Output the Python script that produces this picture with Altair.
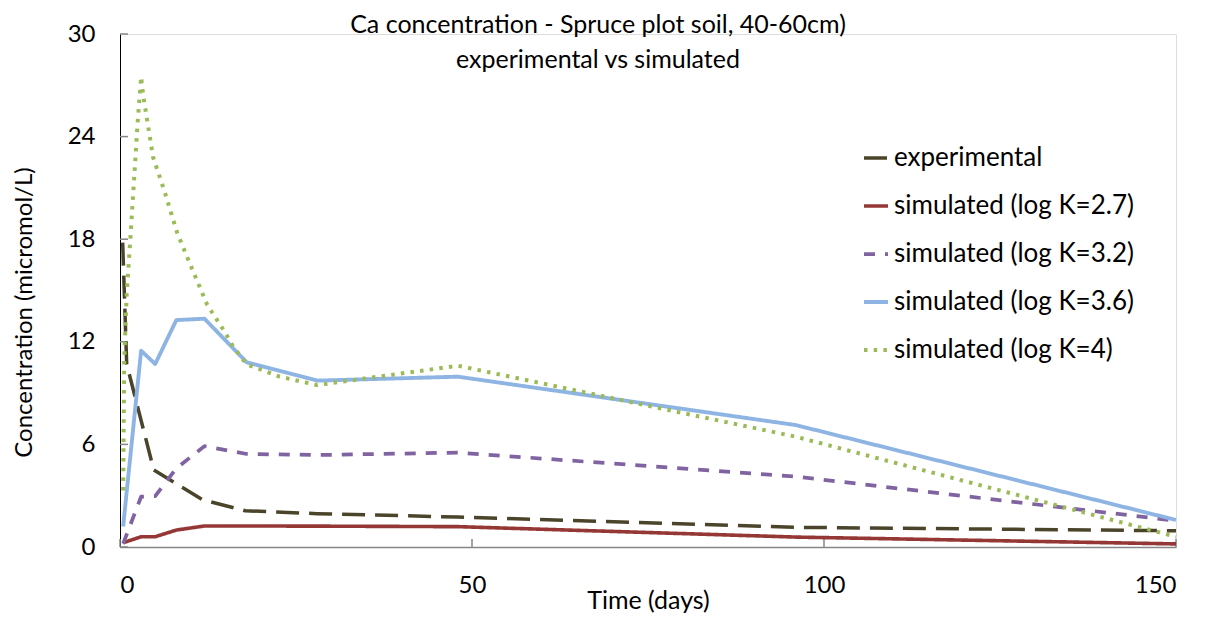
import altair as alt
import pandas as pd

FONT = "Lato"

series_names = [
    "experimental",
    "simulated (log K=2.7)",
    "simulated (log K=3.2)",
    "simulated (log K=3.6)",
    "simulated (log K=4)",
]

exp_days = [0.38, 0.95, 4.8, 11.8, 17.8, 28, 48, 96, 150]
exp_vals = [17.8, 10.7, 4.5, 2.75, 2.12, 1.95, 1.75, 1.15, 0.95]

sim_days = [0.45, 3, 5, 8, 12, 18, 28, 48, 96, 150]
k27_vals = [0.25, 0.6, 0.6, 0.99, 1.23, 1.23, 1.22, 1.19, 0.58, 0.18]
k32_vals = [0.2, 2.94, 2.98, 4.6, 5.9, 5.44, 5.38, 5.52, 4.12, 1.54]
k36_vals = [1.2, 11.48, 10.7, 13.27, 13.35, 10.8, 9.73, 9.96, 7.13, 1.58]

k4_days = [0.45, 0.6, 0.95, 1.5, 2.0, 2.5, 3.0, 3.3, 4.7, 6.4, 8.1, 10.2,
           12.4, 14.7, 16.1, 18, 22.7, 28, 48, 96, 150]
k4_vals = [3.3, 10.9, 14.8, 18.2, 21.5, 24.8, 27.5, 26.4, 22.8, 20.7, 18.4, 16.3,
           14.15, 12.7, 11.7, 10.68, 9.96, 9.47, 10.6, 6.45, 0.6]

y_ticks = [0, 6, 12, 18, 24, 30]
x_ticks = [0, 50, 100, 150]

colors = ["#4A452A", "#953735", "#8064A2", "#8DB4E2", "#9BBB59"]
dashes = [[23, 10], [1, 0], [11, 10], [1, 0], [3.5, 6.2]]
widths = [3.5, 4, 3, 3, 3.8]

rows = []
for d, v in zip(exp_days, exp_vals):
    rows.append({"series": series_names[0], "day": d, "value": v})
for name, vals in zip(series_names[1:4], [k27_vals, k32_vals, k36_vals]):
    for d, v in zip(sim_days, vals):
        rows.append({"series": name, "day": d, "value": v})
for d, v in zip(k4_days, k4_vals):
    rows.append({"series": series_names[4], "day": d, "value": v})
df = pd.DataFrame(rows)

W, H = 1056, 513

xscale = alt.Scale(domain=[0, 150], nice=False)
yscale = alt.Scale(domain=[0, 30], nice=False)

lines = alt.Chart(df).mark_line(strokeJoin="round").encode(
    x=alt.X("day:Q", scale=xscale, axis=alt.Axis(
        values=x_ticks, title="Time (days)", ticks=False, grid=False,
        domainColor="#868686", domainWidth=1.5,
        labelFont=FONT, labelFontSize=24, labelColor="#000", labelPadding=26,
        titleFont=FONT, titleFontSize=25, titleFontWeight="normal", titleColor="#000",
        titleX=528, titleY=53, titleBaseline="middle", titleAlign="center")),
    y=alt.Y("value:Q", scale=yscale, axis=alt.Axis(
        values=y_ticks, title="Concentration (micromol/L)", ticks=False, grid=False,
        domainColor="#000", domainWidth=1,
        labelFont=FONT, labelFontSize=24, labelColor="#000", labelPadding=25,
        titleFont=FONT, titleFontSize=24, titleFontWeight="normal", titleColor="#000",
        titleX=-96, titleY=278, titleAngle=-90, titleAlign="center", titleBaseline="middle")),
    color=alt.Color("series:N", scale=alt.Scale(domain=series_names, range=colors),
                    legend=alt.Legend(title=None, orient="none", legendX=742, legendY=110,
                                      labelFont=FONT, labelFontSize=26, labelColor="#000",
                                      symbolType="stroke", symbolSize=576, rowPadding=21,
                                      labelOffset=4, labelLimit=400)),
    strokeDash=alt.StrokeDash("series:N", scale=alt.Scale(domain=series_names, range=dashes)),
    strokeWidth=alt.StrokeWidth("series:N", scale=alt.Scale(domain=series_names, range=widths)),
    order=alt.Order("day:Q"),
)

yt_df = pd.DataFrame({"t": y_ticks})
xt_df = pd.DataFrame({"t": x_ticks})

ytick_marks = alt.Chart(yt_df).mark_rule(color="#868686", strokeWidth=1.5).encode(
    y=alt.Y("t:Q", scale=yscale), x=alt.value(0), x2=alt.value(8))
xtick_marks = alt.Chart(xt_df).mark_rule(color="#868686", strokeWidth=1.5).encode(
    x=alt.X("t:Q", scale=xscale), y=alt.value(H), y2=alt.value(H - 8))

chart = alt.layer(ytick_marks, xtick_marks, lines).properties(
    width=W, height=H,
    title=alt.Title(["Ca concentration - Spruce plot soil, 40-60cm)", "experimental vs simulated"],
                    font=FONT, fontSize=25, fontWeight="normal", color="#000",
                    anchor="middle", dx=-50, dy=51, lineHeight=35, offset=0),
    autosize=alt.AutoSizeParams(type="none"),
    padding={"left": 112, "top": 26, "right": 20, "bottom": 68},
).configure_view(stroke=None).configure(background="white")

chart.save("out.html", embed_options={"renderer": "svg", "actions": False})
